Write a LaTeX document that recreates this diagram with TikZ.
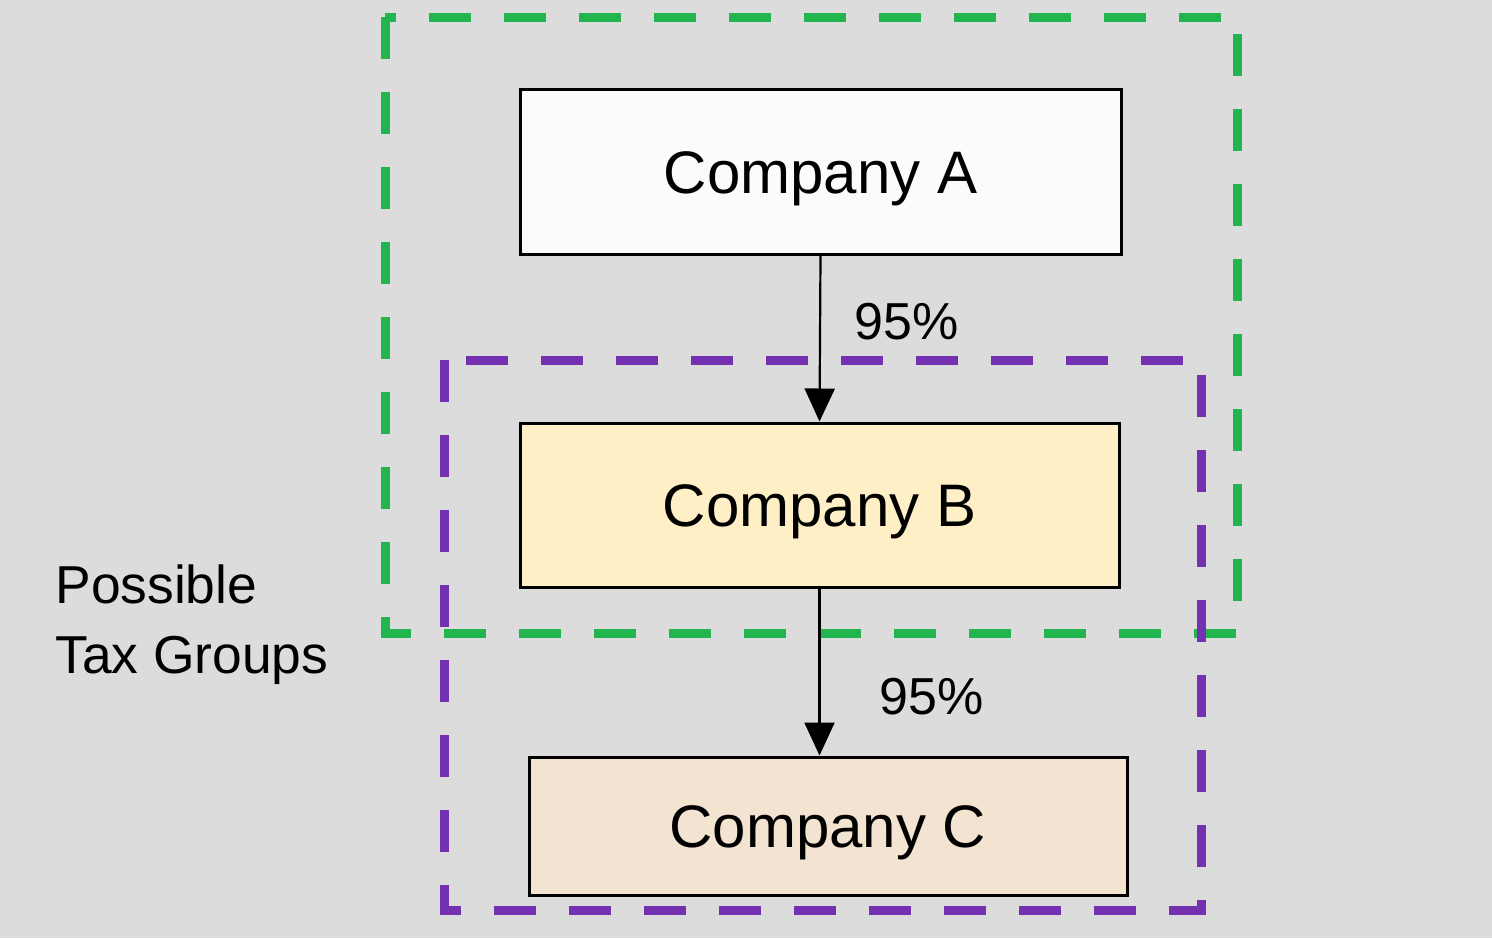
\documentclass[tikz,border=0pt]{standalone}
\usepackage{fontspec}
\setmainfont{Liberation Sans}
\usepackage{xcolor}
\usetikzlibrary{arrows.meta}

\definecolor{bggray}{RGB}{220,220,220}
\definecolor{groupgreen}{RGB}{34,180,78}
\definecolor{grouppurple}{RGB}{116,50,178}
\definecolor{fillA}{RGB}{251,251,251}
\definecolor{fillB}{RGB}{255,239,198}
\definecolor{fillC}{RGB}{243,228,210}

\begin{document}
\begin{tikzpicture}[x=0.5pt,y=0.5pt,yscale=-1,xscale=1,
  company/.style={draw=black,line width=1.5pt,inner sep=0pt,text height=21.5pt,text depth=0pt,font=\fontsize{30}{36}\selectfont},
  share/.style={draw=black,line width=1.1pt,-{Triangle[width=15pt,length=16.5pt]}},
  pct/.style={inner sep=0pt,font=\fontsize{26}{32}\selectfont},
  groupline/.style={line width=4.5pt,dash pattern=on 21pt off 16.5pt}]
%set diagram left start at 0, and has height of 938
\fill[bggray] (0,0) rectangle (1492,938);
\useasboundingbox (0,0) rectangle (1492,938);

%Dashed Rectangle: first tax group
\draw [groupline,groupgreen] (385,17) rectangle (1237,633);
%Dashed Rectangle: second tax group
\draw [groupline,grouppurple] (444,360) rectangle (1201,910);

% Company Nodes
\node (compA) [company,fill=fillA,minimum width=300.5pt,minimum height=82.5pt] at (820.5,171.5) {Company A};
\node (compB) [company,fill=fillB,minimum width=299.5pt,minimum height=82pt] at (819.5,505) {Company B};
\node (compC) [company,fill=fillC,minimum width=299pt,minimum height=69pt] at (828,826) {Company C};

%Straight Lines
\draw [share] (compA.south) -- (compB.north);
\draw [share] (compB.south) -- (compB.south |- compC.north);

% Text Node
\node (pctAB) [pct] at (907,322) {95\%};
% Text Node
\node (pctBC) [pct] at (932,697) {95\%};
% Text Node
\node (taxgroups) [anchor=north west,inner sep=0pt,align=left,font=\fontsize{26.7}{35}\selectfont] at (55,564) {Possible\\Tax Groups};

\end{tikzpicture}
\end{document}
